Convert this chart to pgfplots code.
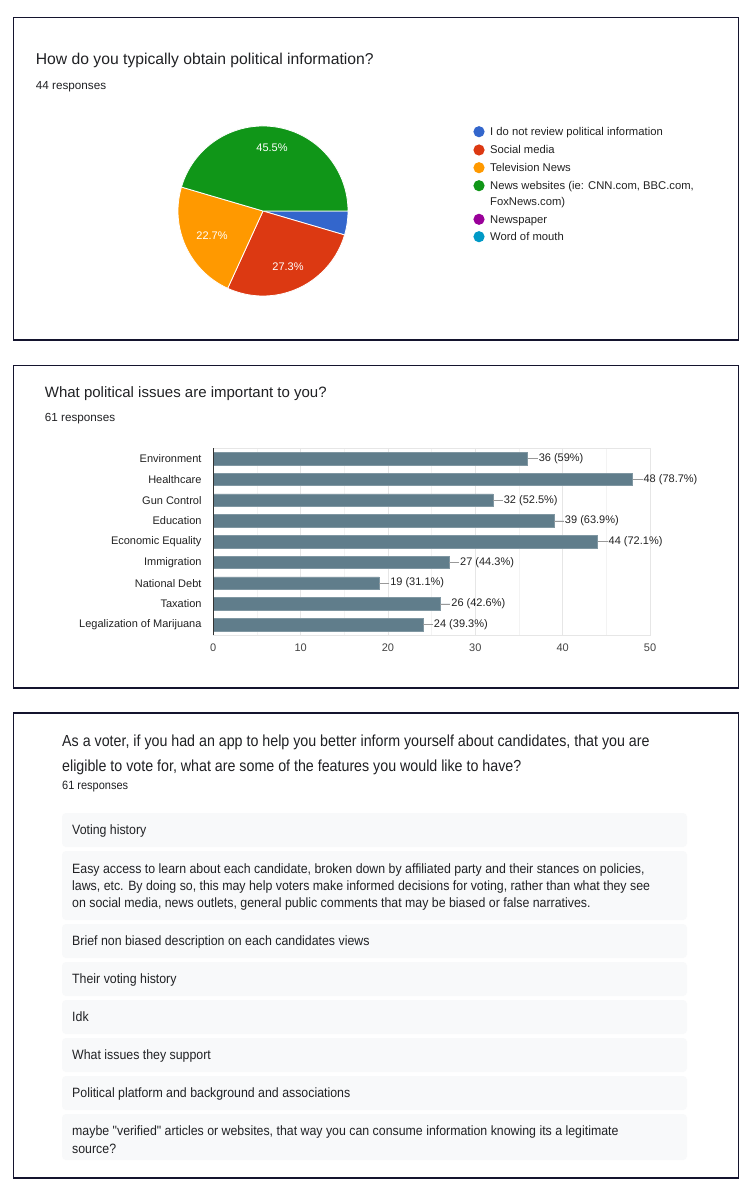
\documentclass[border=0pt]{standalone}
\usepackage{pgfplots}
\pgfplotsset{compat=1.18}
\usepackage{fontspec}
\setmainfont{Liberation Sans}
\newfontfamily\condA[FakeStretch=0.89]{Liberation Sans}
\newfontfamily\condB[FakeStretch=0.915]{Liberation Sans}
\definecolor{gblue}{HTML}{3366CC}
\definecolor{gred}{HTML}{DC3912}
\definecolor{gorange}{HTML}{FF9900}
\definecolor{ggreen}{HTML}{109618}
\definecolor{gpurple}{HTML}{990099}
\definecolor{gteal}{HTML}{0099C6}
\definecolor{barcol}{HTML}{607D8B}
\definecolor{txt}{HTML}{202124}
\definecolor{txttwo}{HTML}{222222}
\definecolor{ticktxt}{HTML}{444444}
\definecolor{framecol}{HTML}{14142E}
\definecolor{itembg}{HTML}{F8F9FA}
\definecolor{gridmaj}{HTML}{E6E6E6}
\definecolor{gridmin}{HTML}{F3F3F3}
\newcommand\fs[1]{\fontsize{#1}{#1}\selectfont}
% pie: counts out of 44 responses
\pgfmathsetmacro\aA{0}
\pgfmathsetmacro\aB{\aA-360*2/44}
\pgfmathsetmacro\aC{\aB-360*12/44}
\pgfmathsetmacro\aD{\aC-360*10/44}
\pgfmathsetmacro\aE{\aD-360*20/44}
\begin{document}
\begin{tikzpicture}
\useasboundingbox (0,0) rectangle (754pt,-1193pt);
\fill[white] (0,0) rectangle (754pt,-1193pt);
% ---------------- pie chart ----------------
\begin{axis}[at={(263pt,-211pt)}, anchor=center, scale only axis,
  width=170pt, height=170pt, hide axis,
  xmin=-1, xmax=1, ymin=-1, ymax=1, clip=false]
\fill[gblue, draw=white, line width=0.8pt] (axis cs:0,0) -- ++(\aA:85pt) arc[start angle=\aA, end angle=\aB, radius=85pt] -- cycle;
\fill[gred, draw=white, line width=0.8pt] (axis cs:0,0) -- ++(\aB:85pt) arc[start angle=\aB, end angle=\aC, radius=85pt] -- cycle;
\fill[gorange, draw=white, line width=0.8pt] (axis cs:0,0) -- ++(\aC:85pt) arc[start angle=\aC, end angle=\aD, radius=85pt] -- cycle;
\fill[ggreen, draw=white, line width=0.8pt] (axis cs:0,0) -- ++(\aD:85pt) arc[start angle=\aD, end angle=\aE, radius=85pt] -- cycle;
\addplot[draw=none, mark=none, point meta=explicit symbolic, nodes near coords,
  nodes near coords style={anchor=center, text=white, font=\fs{11}}]
  coordinates {(0.106,0.741)[45.5\%] (0.294,-0.659)[27.3\%] (-0.6,-0.294)[22.7\%]};
\end{axis}
% ---------------- bar chart ----------------
\begin{axis}[at={(213.3pt,-635pt)}, anchor=south west, scale only axis,
  width=436.7pt, height=186.7pt,
  xmin=0, xmax=50, ymin=-0.5, ymax=8.5, y dir=reverse,
  xtick={0,10,...,50}, minor x tick num=1, xmajorgrids, xminorgrids,
  major grid style={draw=gridmaj, line width=0.6pt},
  minor grid style={draw=gridmin, line width=0.6pt},
  ytick={0,...,8},
  yticklabels={Environment, Healthcare, Gun Control, Education, Economic Equality, Immigration, National Debt, Taxation, Legalization of Marijuana},
  major tick length=0pt, minor tick length=0pt,
  axis line style={draw=gridmaj},
  tick label style={font=\fs{11}},
  yticklabel style={inner sep=0pt, xshift=-11.6pt, text=txttwo},
  xticklabel style={inner sep=0pt, yshift=-8.7pt, text=ticktxt},
  /pgf/number format/assume math mode=true,
  clip=false]
\addplot[xbar, bar width=12.5pt, fill=barcol, draw=barcol!80!white, line width=0.5pt,
  point meta=explicit symbolic, nodes near coords,
  nodes near coords style={anchor=west, xshift=10.3pt, inner sep=0.5pt, font=\fs{11}, text=txttwo},
  error bars/.cd, x dir=plus, x fixed=1.15, error mark=none,
  error bar style={draw=black!40, line width=0.6pt}]
  coordinates {(36,0)[36 (59\%)] (48,1)[48 (78.7\%)] (32,2)[32 (52.5\%)] (39,3)[39 (63.9\%)] (44,4)[44 (72.1\%)] (27,5)[27 (44.3\%)] (19,6)[19 (31.1\%)] (26,7)[26 (42.6\%)] (24,8)[24 (39.3\%)]};
\draw[black!80, line width=1pt] (axis cs:0,-0.5) -- (axis cs:0,8.5);
\end{axis}
% ---------------- texts and frames ----------------
\begin{scope}[x=1pt, y=-1pt]
\draw[framecol, line width=1.4pt] (13.3,17.5) rectangle (738.3,340);
\draw[framecol, line width=1.4pt] (13.3,365.7) rectangle (738.3,688);
\draw[framecol, line width=1.4pt] (13.3,713) rectangle (738.3,1178);
% panel 1
\node[anchor=base west, inner sep=0, font=\fs{15.7}, text=txt] at (35.7,65) {How do you typically obtain political information?};
\node[anchor=base west, inner sep=0, font=\fs{11.7}, text=txt] at (35.7,90) {44 responses};
\foreach \c/\yy/\t in {gblue/131.7/I do not review political information, gred/150/Social media, gorange/167.7/Television News, ggreen/185.7/{News websites (ie: CNN.com, BBC.com,}, gpurple/219.3/Newspaper, gteal/236.7/Word of mouth}{
  \fill[\c] (479,\yy) circle (5.6);
  \node[anchor=base west, inner sep=0, font=\fs{11.25}, text=txttwo] at (490,\yy+4) {\t};
}
\node[anchor=base west, inner sep=0, font=\fs{11.25}, text=txttwo] at (490,201.7+4) {FoxNews.com)};
% panel 2
\node[anchor=base west, inner sep=0, font=\fs{15}, text=txt] at (44.7,397) {What political issues are important to you?};
\node[anchor=base west, inner sep=0, font=\fs{11.7}, text=txt] at (44.7,421.7) {61 responses};
% panel 3
\node[anchor=base west, inner sep=0, font=\condA\fs{16}, text=txt] at (62,746) {As a voter, if you had an app to help you better inform yourself about candidates, that you are};
\node[anchor=base west, inner sep=0, font=\condA\fs{16}, text=txt] at (62,771) {eligible to vote for, what are some of the features you would like to have?};
\node[anchor=base west, inner sep=0, font=\condB\fs{12}, text=txt] at (62,789) {61 responses};
\foreach \ya/\yb in {813/847, 851/920, 924/958, 962/996, 1000/1034, 1038/1072, 1076/1110, 1114/1160}{
  \fill[itembg, rounded corners=4pt] (62,\ya) rectangle (687,\yb);
}
\tikzset{itm/.style={anchor=base west, inner sep=0, font=\condB\fs{13.5}, text=txt}}
\node[itm] at (72,834.5) {Voting history};
\node[itm] at (72,873.5) {Easy access to learn about each candidate, broken down by affiliated party and their stances on policies,};
\node[itm] at (72,890.5) {laws, etc. By doing so, this may help voters make informed decisions for voting, rather than what they see};
\node[itm] at (72,907.5) {on social media, news outlets, general public comments that may be biased or false narratives.};
\node[itm] at (72,945.5) {Brief non biased description on each candidates views};
\node[itm] at (72,983.5) {Their voting history};
\node[itm] at (72,1021.5) {Idk};
\node[itm] at (72,1059.5) {What issues they support};
\node[itm] at (72,1097.5) {Political platform and background and associations};
\node[itm] at (72,1135.5) {maybe "verified" articles or websites, that way you can consume information knowing its a legitimate};
\node[itm] at (72,1153) {source?};
\end{scope}
\end{tikzpicture}
\end{document}
